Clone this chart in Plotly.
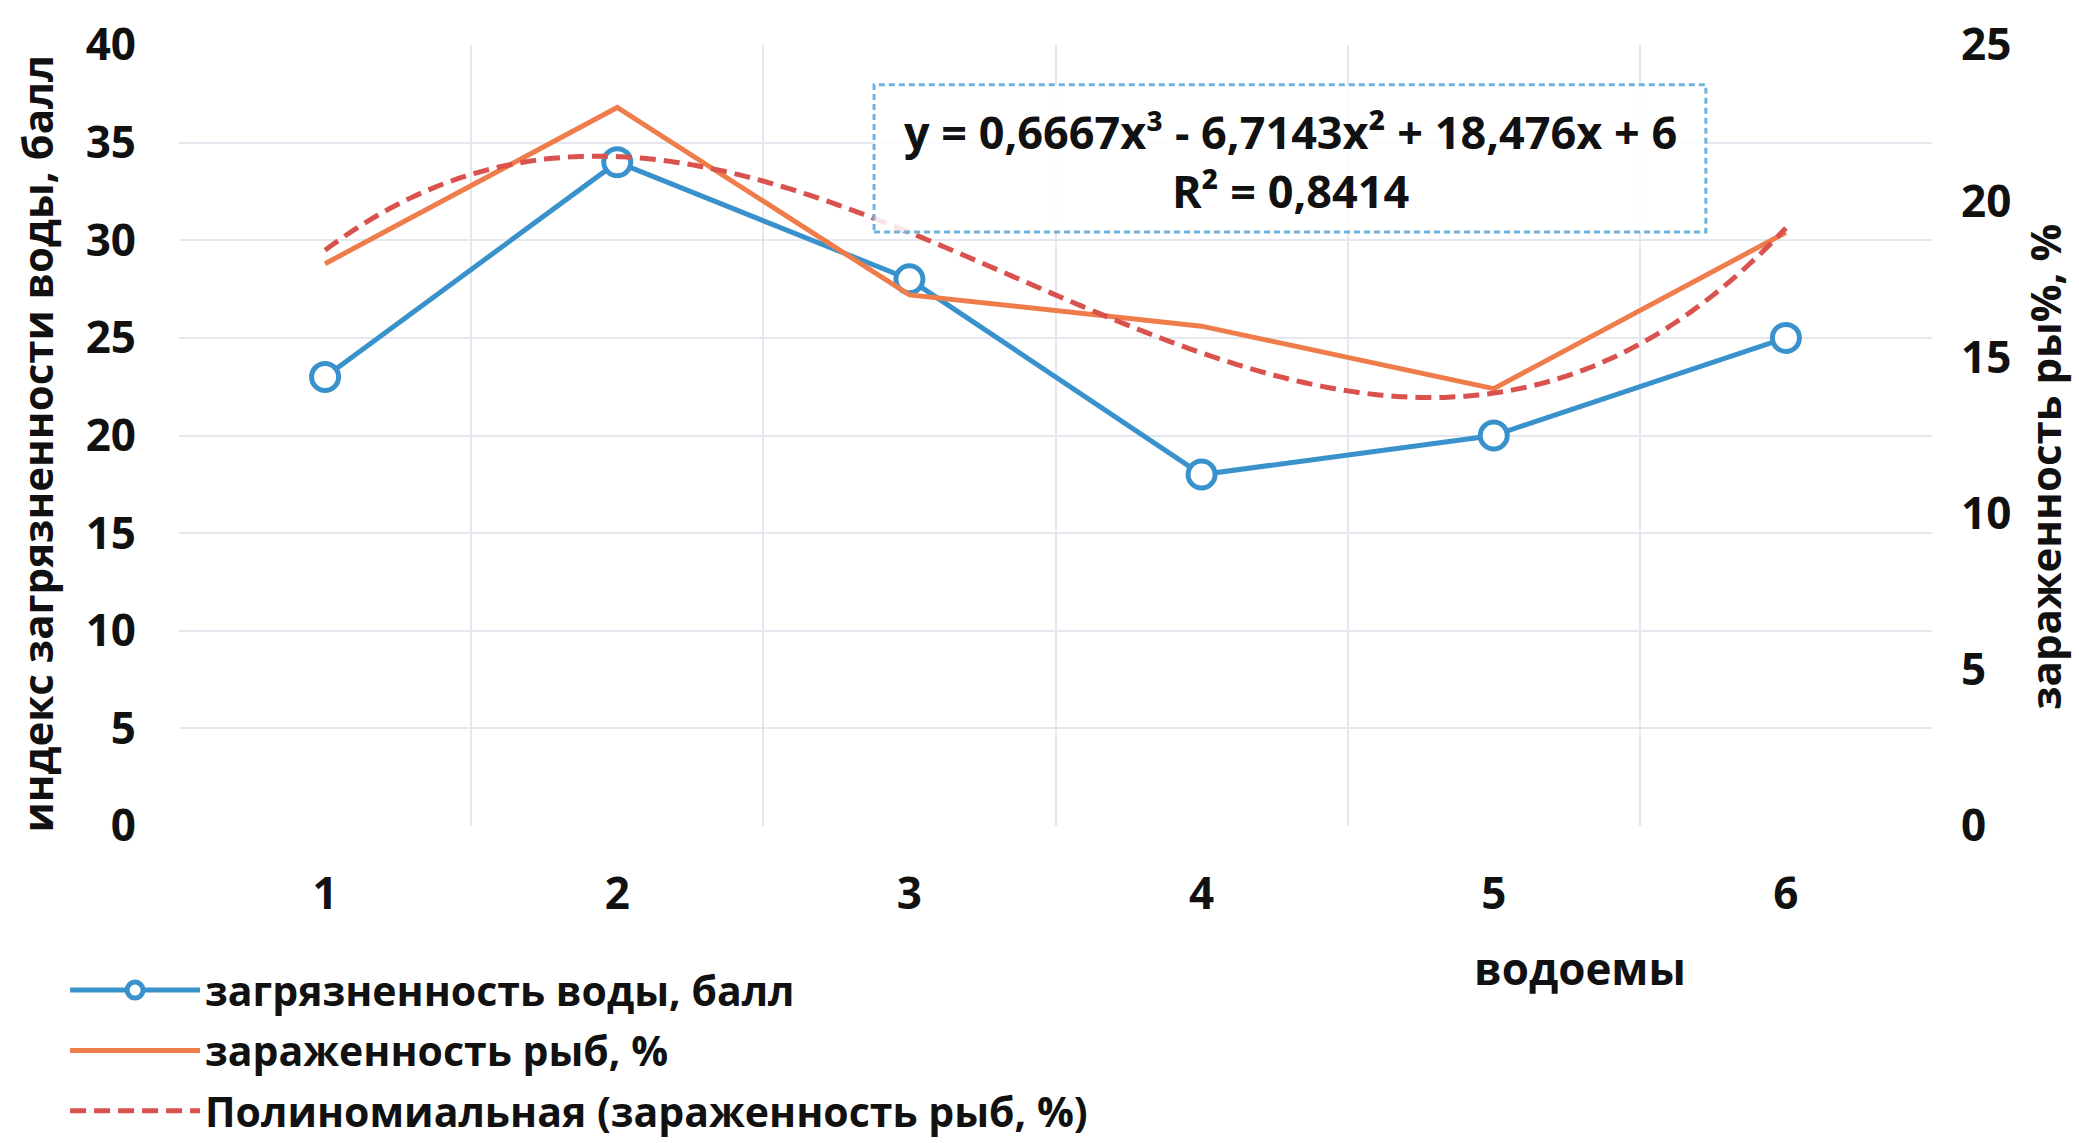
import numpy as np
import plotly.graph_objects as go

# Water bodies (categories on the x axis)
ponds = [1, 2, 3, 4, 5, 6]
tick_labels = ["1", "2", "3", "4", "5", "6"]

# Water pollution index, points (left axis)
water_pollution = [23, 34, 28, 18, 20, 25]
# Fish infestation, % (right axis)
fish_infestation = [18, 23, 17, 16, 14, 19]

left_ticks = [0, 5, 10, 15, 20, 25, 30, 35, 40]
right_ticks = [0, 5, 10, 15, 20, 25]

# Cubic polynomial trend for fish infestation
coef = np.polyfit(ponds, fish_infestation, 3)
x_fit = np.linspace(ponds[0], ponds[-1], 200)
y_fit = np.polyval(coef, x_fit)

FONT = "Open Sans"
BLUE = "#3A92CC"
ORANGE = "#EF7D4B"
TREND = "#DA524E"
GRID = "#E4E8EE"
INK = "#111111"

fig = go.Figure()

fig.add_trace(go.Scatter(
    x=ponds, y=water_pollution, name="загрязненность воды, балл",
    mode="lines+markers", legendgroup="a",
    line=dict(color=BLUE, width=5),
    marker=dict(symbol="circle", size=27, color="white",
                line=dict(color=BLUE, width=5)),
    yaxis="y",
))
fig.add_trace(go.Scatter(
    x=ponds, y=fish_infestation, name="зараженность рыб, %",
    mode="lines", legendgroup="b",
    line=dict(color=ORANGE, width=5),
    yaxis="y2",
))
fig.add_trace(go.Scatter(
    x=x_fit, y=y_fit, name="Полиномиальная (зараженность рыб, %)",
    mode="lines", legendgroup="c",
    line=dict(color=TREND, width=5, dash="16px,8px", shape="spline"),
    yaxis="y2",
))

fig.update_layout(
    width=2079, height=1143,
    margin=dict(l=179, r=147, t=45, b=317, autoexpand=False),
    paper_bgcolor="white", plot_bgcolor="white",
    font=dict(family=FONT, size=44, color=INK, weight="bold"),
    showlegend=True,
    legend=dict(
        x=-0.065, y=-0.1677, xanchor="left", yanchor="top",
        font=dict(family=FONT, size=41, color=INK, weight="bold"),
        bgcolor="rgba(0,0,0,0)", itemwidth=130, traceorder="grouped",
        tracegroupgap=4,
    ),
    xaxis=dict(
        range=[0.5, 6.5], tickmode="array", tickvals=ponds, ticktext=tick_labels,
        showgrid=False, zeroline=False, showline=False, ticks="",
        ticklabelstandoff=38,
        tickfont=dict(family=FONT, size=44, weight="bold", color=INK),
        minor=dict(tickvals=[0.5, 1.5, 2.5, 3.5, 4.5, 5.5, 6.5],
                   showgrid=True, gridcolor=GRID, gridwidth=2, ticks=""),
    ),
    yaxis=dict(
        range=[0, 40], tickmode="array", tickvals=left_ticks,
        showgrid=True, gridcolor=GRID, gridwidth=2,
        zeroline=False, showline=False, ticks="",
        ticklabelstandoff=42,
        tickfont=dict(family=FONT, size=44, weight="bold", color=INK),
    ),
    yaxis2=dict(
        range=[0, 25], tickmode="array", tickvals=right_ticks,
        overlaying="y", side="right", showgrid=False,
        zeroline=False, showline=False, ticks="",
        ticklabelstandoff=28,
        tickfont=dict(family=FONT, size=44, weight="bold", color=INK),
    ),
)

# Axis titles
fig.add_annotation(
    text="индекс загрязненности воды, балл", textangle=-90,
    xref="paper", yref="paper", x=-0.0815, y=0.49,
    xanchor="center", yanchor="middle",
    showarrow=False, font=dict(family=FONT, size=42, weight="bold", color=INK),
)
fig.add_annotation(
    text="зараженность ры%, %", textangle=-90,
    xref="paper", yref="paper", x=1.0645, y=0.46,
    xanchor="center", yanchor="middle",
    showarrow=False, font=dict(family=FONT, size=42, weight="bold", color=INK),
)
fig.add_annotation(
    text="водоемы",
    xref="paper", yref="paper", x=0.799, y=-0.182,
    xanchor="center", yanchor="middle",
    showarrow=False, font=dict(family=FONT, size=44, weight="bold", color=INK),
)

# Trend equation box
fig.add_shape(
    type="rect", xref="paper", yref="paper",
    x0=0.3965, x1=0.871, y0=0.7606, y1=0.949,
    line=dict(color="#6DB3E2", width=3, dash="6px,4px"),
    fillcolor="rgba(255,255,255,0.85)", layer="above",
)
fig.add_annotation(
    text="y = 0,6667x³ - 6,7143x² + 18,476x + 6<br>R² = 0,8414",
    xref="paper", yref="paper", x=0.6338, y=0.851,
    xanchor="center", yanchor="middle",
    showarrow=False, align="center",
    font=dict(family=FONT, size=45, weight="bold", color=INK),
)

fig.write_html("out.html")
